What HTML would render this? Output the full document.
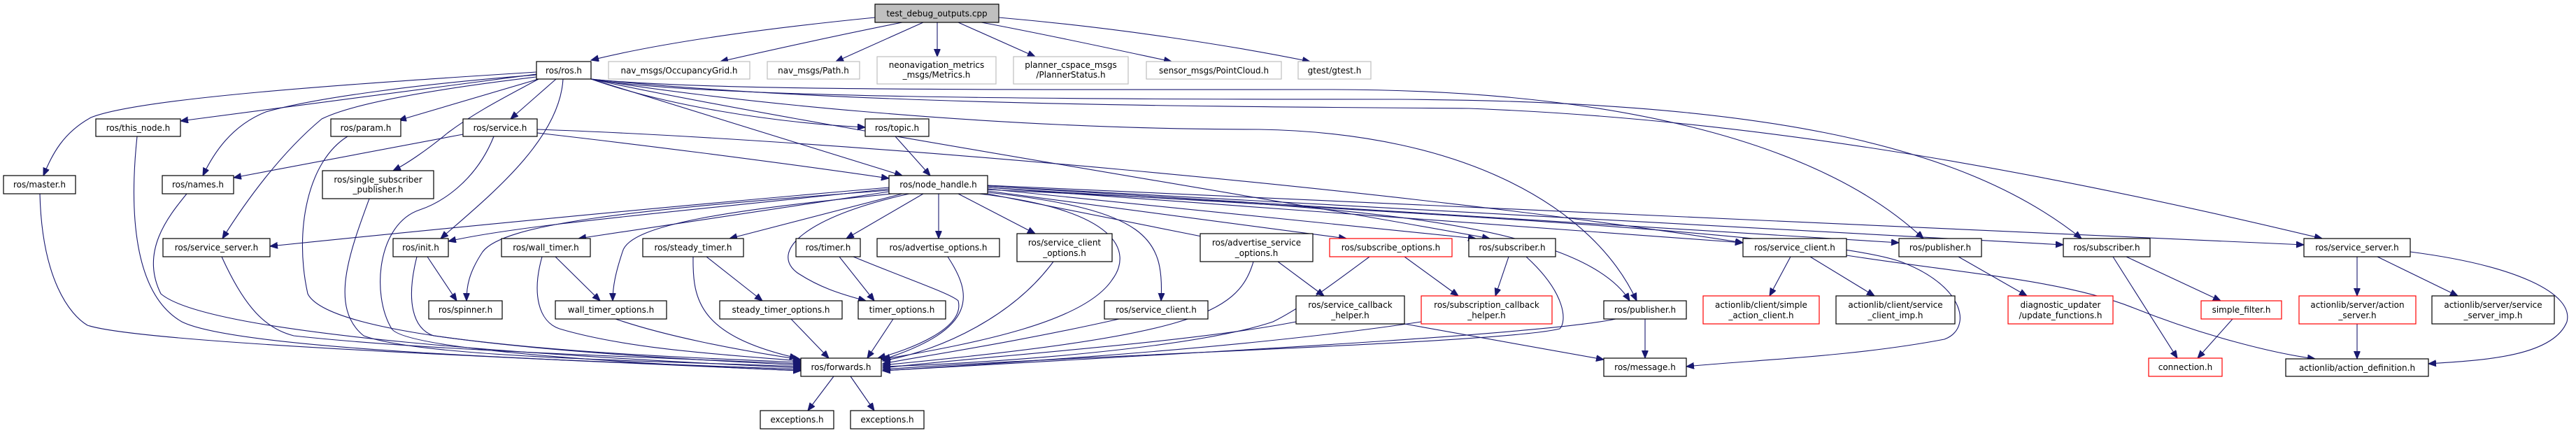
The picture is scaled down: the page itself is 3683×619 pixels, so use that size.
<!DOCTYPE html>
<html><head><meta charset="utf-8"><style>
html,body{margin:0;padding:0;background:#fff;}
svg{display:block;}
text{font-family:"DejaVu Sans","Liberation Sans",sans-serif;font-size:12px;fill:#000;}
.e{fill:none;stroke:#191970;stroke-width:1.1;marker-end:url(#a);}
.n{fill:#fff;stroke:#000;stroke-width:1.2;}
.g{fill:#fff;stroke:#bfbfbf;stroke-width:1.2;}
.r{fill:#fff;stroke:#ff0000;stroke-width:1.2;}
</style></head><body>
<svg width="3683" height="619" viewBox="0 0 3683 619" xmlns="http://www.w3.org/2000/svg">
<defs><marker id="a" markerUnits="userSpaceOnUse" markerWidth="12" markerHeight="10" refX="11" refY="4.5" orient="auto"><path d="M0,0 L11,4.5 L0,9 z" fill="#191970" stroke="#191970"/></marker></defs>

<!-- edges -->
<path class="e" d="M1251,25 C1100,40 950,60 845,86"/>
<path class="e" d="M1290,32 C1200,50 1100,72 1030,88"/>
<path class="e" d="M1320,32 L1195,88"/>
<path class="e" d="M1340,32 L1340,81"/>
<path class="e" d="M1370,32 L1480,81"/>
<path class="e" d="M1403,32 C1500,50 1600,72 1675,88"/>
<path class="e" d="M1428,25 C1600,40 1760,65 1873,88"/>

<path class="e" d="M767,103 C500,120 200,140 130,168 C90,190 75,220 62,251"/>
<path class="e" d="M767,106 L258,173"/>
<path class="e" d="M767,107 C600,120 450,140 380,160 C330,180 305,220 290,251"/>
<path class="e" d="M767,110 C600,130 500,150 460,170 C400,220 350,290 318,341"/>
<path class="e" d="M770,113 L570,172"/>
<path class="e" d="M770,113 C720,140 680,160 640,190 C610,215 580,235 562,244"/>
<path class="e" d="M795,113 L730,170"/>
<path class="e" d="M805,113 C800,200 700,280 630,341"/>
<path class="e" d="M845,113 L1290,251"/>
<path class="e" d="M845,113 C950,150 1100,175 1237,182"/>
<path class="e" d="M845,113 C1000,140 1400,185 1800,185 C2100,190 2280,300 2340,430"/>
<path class="e" d="M845,113 C1000,130 1400,128 1900,128 C2300,128 2600,200 2750,341"/>
<path class="e" d="M845,113 C1000,140 1500,142 2000,142 C2500,145 2800,200 2976,341"/>
<path class="e" d="M845,113 C1200,150 1700,152 2100,155 C2500,170 2900,240 3320,341"/>
<path class="e" d="M845,113 C1100,170 1800,280 2130,341"/>

<path class="e" d="M662,192 L334,254"/>
<path class="e" d="M768,190 C900,205 1100,230 1271,255"/>
<path class="e" d="M706,195 C680,260 630,290 600,300 C540,320 530,420 560,470 C580,500 900,520 1145,530"/>
<path class="e" d="M768,185 C1200,200 2000,270 2492,347"/>
<path class="e" d="M1280,195 L1330,251"/>

<path class="e" d="M1271,268 C900,300 600,330 386,352"/>
<path class="e" d="M1271,270 C1000,300 750,320 641,345"/>
<path class="e" d="M1271,272 C900,300 720,320 690,360 C670,390 667,410 667,430"/>
<path class="e" d="M1271,274 L827,341"/>
<path class="e" d="M1275,277 C1050,300 900,320 890,360 C880,390 876,410 876,430"/>
<path class="e" d="M1290,277 L1043,341"/>
<path class="e" d="M1320,277 L1210,341"/>
<path class="e" d="M1300,277 C1150,310 1100,360 1140,390 C1170,410 1200,420 1238,430"/>
<path class="e" d="M1342,277 L1342,341"/>
<path class="e" d="M1370,277 L1480,334"/>
<path class="e" d="M1412,277 L1733,341"/>
<path class="e" d="M1400,277 C1600,300 1620,360 1590,400 C1550,460 1400,490 1260,514"/>
<path class="e" d="M1412,275 C1640,300 1665,340 1660,430"/>
<path class="e" d="M1412,273 L1925,341"/>
<path class="e" d="M1412,270 L2110,341"/>
<path class="e" d="M1412,271 C1800,290 2250,300 2330,430"/>
<path class="e" d="M1412,268 L2492,347"/>
<path class="e" d="M1412,266 L2715,347"/>
<path class="e" d="M1412,266 L2950,350"/>
<path class="e" d="M1412,265 L3294,350"/>
<path class="e" d="M1412,268 C1900,300 2600,330 2720,375 C2810,410 2820,470 2780,485 C2650,510 2500,515 2411,524"/>

<path class="e" d="M57,277 C60,400 100,450 125,465 C200,490 700,510 1145,530"/>
<path class="e" d="M196,195 C185,300 190,420 260,460 C340,500 800,515 1145,528"/>
<path class="e" d="M267,277 C240,310 200,360 230,420 C300,480 800,510 1145,526"/>
<path class="e" d="M528,284 C500,360 470,440 520,480 C600,510 900,515 1145,524"/>
<path class="e" d="M497,195 C440,230 420,330 440,420 C470,480 800,505 1145,522"/>
<path class="e" d="M317,367 C350,440 380,470 420,480 C600,500 900,510 1145,520"/>
<path class="e" d="M596,367 C580,430 590,470 620,480 C800,505 1000,512 1145,518"/>
<path class="e" d="M611,367 L653,430"/>
<path class="e" d="M794,367 L858,430"/>
<path class="e" d="M775,367 C760,420 770,460 800,470 C900,500 1050,508 1145,516"/>
<path class="e" d="M880,456 C950,480 1050,500 1145,514"/>
<path class="e" d="M1010,367 L1090,430"/>
<path class="e" d="M991,367 C990,430 1000,480 1140,512"/>
<path class="e" d="M1131,456 L1185,512"/>
<path class="e" d="M1200,367 L1250,430"/>
<path class="e" d="M1220,367 C1300,400 1360,420 1370,430 C1380,470 1300,500 1255,512"/>
<path class="e" d="M1277,456 L1240,512"/>
<path class="e" d="M1355,367 C1390,420 1400,470 1262,514"/>
<path class="e" d="M1506,374 C1450,450 1350,500 1262,516"/>
<path class="e" d="M1600,456 C1450,490 1300,512 1262,520"/>
<path class="e" d="M1792,374 C1770,450 1700,480 1262,522"/>
<path class="e" d="M1827,374 L1893,423"/>
<path class="e" d="M1958,367 C1900,410 1860,440 1820,460 C1700,500 1400,520 1262,524"/>
<path class="e" d="M2008,367 L2085,423"/>
<path class="e" d="M2157,367 L2138,423"/>
<path class="e" d="M2182,367 C2240,420 2240,460 2230,470 C2150,490 1600,505 1262,528"/>
<path class="e" d="M1853,460 C1700,490 1400,510 1262,526"/>
<path class="e" d="M2008,463 L2293,514"/>
<path class="e" d="M2032,460 C1800,495 1500,515 1262,530"/>
<path class="e" d="M2310,456 C2200,480 1600,510 1262,530"/>
<path class="e" d="M2352,456 L2352,512"/>
<path class="e" d="M2560,367 L2530,423"/>
<path class="e" d="M2588,367 L2680,423"/>
<path class="e" d="M2640,365 C2800,390 2950,400 3050,440 C3150,480 3250,505 3310,513"/>
<path class="e" d="M2800,367 L2898,423"/>
<path class="e" d="M3021,367 L3113,512"/>
<path class="e" d="M3040,367 L3175,430"/>
<path class="e" d="M3192,456 L3142,512"/>
<path class="e" d="M3370,367 L3370,423"/>
<path class="e" d="M3399,367 L3514,423"/>
<path class="e" d="M3446,360 C3600,380 3680,420 3670,460 C3650,510 3550,515 3472,520"/>
<path class="e" d="M3370,463 L3370,513"/>
<path class="e" d="M1192,538 L1155,587"/>
<path class="e" d="M1216,538 L1250,587"/>

<!-- nodes -->
<rect x="1251" y="6" width="177" height="26" fill="#bfbfbf" stroke="#000" stroke-width="1.2"/><text x="1339.5" y="23.5" text-anchor="middle">test_debug_outputs.cpp</text>
<rect class="n" x="767" y="88" width="78" height="25"/><text x="806" y="105" text-anchor="middle">ros/ros.h</text>
<rect class="g" x="870" y="88" width="202" height="25"/><text x="971" y="105" text-anchor="middle">nav_msgs/OccupancyGrid.h</text>
<rect class="g" x="1097" y="88" width="132" height="25"/><text x="1163" y="105" text-anchor="middle">nav_msgs/Path.h</text>
<rect class="g" x="1254" y="81" width="170" height="39"/><text x="1339" y="97" text-anchor="middle">neonavigation_metrics</text><text x="1339" y="111" text-anchor="middle">_msgs/Metrics.h</text>
<rect class="g" x="1449" y="81" width="164" height="39"/><text x="1531" y="97" text-anchor="middle">planner_cspace_msgs</text><text x="1531" y="111" text-anchor="middle">/PlannerStatus.h</text>
<rect class="g" x="1639" y="88" width="193" height="25"/><text x="1735.5" y="105" text-anchor="middle">sensor_msgs/PointCloud.h</text>
<rect class="g" x="1856" y="88" width="104" height="25"/><text x="1908" y="105" text-anchor="middle">gtest/gtest.h</text>

<rect class="n" x="137" y="170" width="121" height="25"/><text x="197.5" y="187" text-anchor="middle">ros/this_node.h</text>
<rect class="n" x="473" y="170" width="100" height="25"/><text x="523" y="187" text-anchor="middle">ros/param.h</text>
<rect class="n" x="662" y="170" width="106" height="25"/><text x="715" y="187" text-anchor="middle">ros/service.h</text>
<rect class="n" x="1237" y="170" width="91" height="25"/><text x="1282.5" y="187" text-anchor="middle">ros/topic.h</text>

<rect class="n" x="5" y="251" width="103" height="26"/><text x="56.5" y="268" text-anchor="middle">ros/master.h</text>
<rect class="n" x="232" y="251" width="102" height="26"/><text x="283" y="268" text-anchor="middle">ros/names.h</text>
<rect class="n" x="461" y="244" width="159" height="40"/><text x="540.5" y="261" text-anchor="middle">ros/single_subscriber</text><text x="540.5" y="275" text-anchor="middle">_publisher.h</text>
<rect class="n" x="1271" y="251" width="141" height="26"/><text x="1341.5" y="268" text-anchor="middle">ros/node_handle.h</text>

<rect class="n" x="233" y="341" width="153" height="26"/><text x="309.5" y="358" text-anchor="middle">ros/service_server.h</text>
<rect class="n" x="562" y="341" width="79" height="26"/><text x="601.5" y="358" text-anchor="middle">ros/init.h</text>
<rect class="n" x="717" y="341" width="127" height="26"/><text x="780.5" y="358" text-anchor="middle">ros/wall_timer.h</text>
<rect class="n" x="919" y="341" width="144" height="26"/><text x="991" y="358" text-anchor="middle">ros/steady_timer.h</text>
<rect class="n" x="1138" y="341" width="92" height="26"/><text x="1184" y="358" text-anchor="middle">ros/timer.h</text>
<rect class="n" x="1254" y="341" width="175" height="26"/><text x="1341.5" y="358" text-anchor="middle">ros/advertise_options.h</text>
<rect class="n" x="1454" y="334" width="136" height="40"/><text x="1522" y="351" text-anchor="middle">ros/service_client</text><text x="1522" y="366" text-anchor="middle">_options.h</text>
<rect class="n" x="1716" y="334" width="161" height="40"/><text x="1796.5" y="351" text-anchor="middle">ros/advertise_service</text><text x="1796.5" y="366" text-anchor="middle">_options.h</text>
<rect class="r" x="1901" y="341" width="175" height="26"/><text x="1988.5" y="358" text-anchor="middle">ros/subscribe_options.h</text>
<rect class="n" x="2100" y="341" width="124" height="26"/><text x="2162" y="358" text-anchor="middle">ros/subscriber.h</text>
<rect class="n" x="2492" y="341" width="148" height="26"/><text x="2566" y="358" text-anchor="middle">ros/service_client.h</text>
<rect class="n" x="2715" y="341" width="118" height="26"/><text x="2774" y="358" text-anchor="middle">ros/publisher.h</text>
<rect class="n" x="2950" y="341" width="124" height="26"/><text x="3012" y="358" text-anchor="middle">ros/subscriber.h</text>
<rect class="n" x="3294" y="341" width="152" height="26"/><text x="3370" y="358" text-anchor="middle">ros/service_server.h</text>

<rect class="n" x="613" y="430" width="105" height="26"/><text x="665.5" y="447" text-anchor="middle">ros/spinner.h</text>
<rect class="n" x="794" y="430" width="159" height="26"/><text x="873.5" y="447" text-anchor="middle">wall_timer_options.h</text>
<rect class="n" x="1029" y="430" width="175" height="26"/><text x="1116.5" y="447" text-anchor="middle">steady_timer_options.h</text>
<rect class="n" x="1227" y="430" width="125" height="26"/><text x="1289.5" y="447" text-anchor="middle">timer_options.h</text>
<rect class="n" x="1579" y="430" width="148" height="26"/><text x="1653" y="447" text-anchor="middle">ros/service_client.h</text>
<rect class="n" x="1853" y="423" width="155" height="40"/><text x="1930.5" y="440" text-anchor="middle">ros/service_callback</text><text x="1930.5" y="455" text-anchor="middle">_helper.h</text>
<rect class="r" x="2032" y="423" width="187" height="40"/><text x="2125.5" y="440" text-anchor="middle">ros/subscription_callback</text><text x="2125.5" y="455" text-anchor="middle">_helper.h</text>
<rect class="n" x="2293" y="430" width="118" height="26"/><text x="2352" y="447" text-anchor="middle">ros/publisher.h</text>
<rect class="r" x="2435" y="423" width="166" height="40"/><text x="2518" y="440" text-anchor="middle">actionlib/client/simple</text><text x="2518" y="455" text-anchor="middle">_action_client.h</text>
<rect class="n" x="2625" y="423" width="170" height="40"/><text x="2710" y="440" text-anchor="middle">actionlib/client/service</text><text x="2710" y="455" text-anchor="middle">_client_imp.h</text>
<rect class="r" x="2871" y="423" width="150" height="40"/><text x="2946" y="440" text-anchor="middle">diagnostic_updater</text><text x="2946" y="455" text-anchor="middle">/update_functions.h</text>
<rect class="r" x="3147" y="430" width="115" height="26"/><text x="3204.5" y="447" text-anchor="middle">simple_filter.h</text>
<rect class="r" x="3287" y="423" width="167" height="40"/><text x="3370.5" y="440" text-anchor="middle">actionlib/server/action</text><text x="3370.5" y="455" text-anchor="middle">_server.h</text>
<rect class="n" x="3477" y="423" width="175" height="40"/><text x="3564.5" y="440" text-anchor="middle">actionlib/server/service</text><text x="3564.5" y="455" text-anchor="middle">_server_imp.h</text>

<rect class="n" x="1145" y="512" width="115" height="26"/><text x="1202.5" y="529" text-anchor="middle">ros/forwards.h</text>
<rect class="n" x="2293" y="512" width="118" height="26"/><text x="2352" y="529" text-anchor="middle">ros/message.h</text>
<rect class="r" x="3072" y="512" width="105" height="26"/><text x="3124.5" y="529" text-anchor="middle">connection.h</text>
<rect class="n" x="3268" y="513" width="204" height="25"/><text x="3370" y="530" text-anchor="middle">actionlib/action_definition.h</text>
<rect class="n" x="1087" y="587" width="105" height="26"/><text x="1139.5" y="604" text-anchor="middle">exceptions.h</text>
<rect class="n" x="1216" y="587" width="105" height="26"/><text x="1268.5" y="604" text-anchor="middle">exceptions.h</text>
</svg>
</body></html>
